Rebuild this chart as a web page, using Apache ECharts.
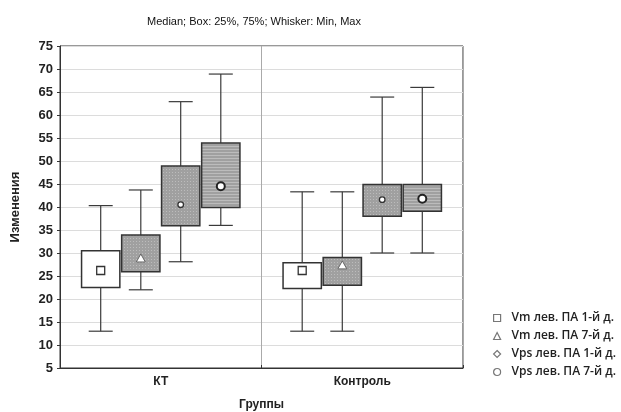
<!DOCTYPE html>
<html>
<head>
<meta charset="utf-8">
<script src="https://cdn.jsdelivr.net/npm/echarts@6/dist/echarts.min.js"></script>
<style>
  html, body { margin: 0; padding: 0; background: #fff; }
  #chart { width: 621px; height: 412px; }
</style>
</head>
<body>
<div id="chart"></div>
<script>
// группы по оси X
let groups = ['КТ', 'Контроль']
let seriesNames = ['Vm лев. ПА 1-й д.', 'Vm лев. ПА 7-й д.', 'Vps лев. ПА 1-й д.', 'Vps лев. ПА 7-й д.']
// для каждой группы: [min, 25%, медиана, 75%, max]
let vm1 = [[13, 22.5, 26.2, 30.5, 40.3], [13, 22.3, 26.2, 27.9, 43.3]]
let vm7 = [[22, 25.9, 28.7, 33.9, 43.7], [13, 23.0, 27.2, 29.0, 43.3]]
let vps1 = [[28.1, 35.9, 40.5, 48.9, 62.9], [30, 38.0, 41.6, 44.9, 63.9]]
let vps7 = [[36, 39.9, 44.5, 53.9, 68.9], [30, 39.1, 41.8, 44.9, 66.0]]
let yTicks = [5, 10, 15, 20, 25, 30, 35, 40, 45, 50, 55, 60, 65, 70, 75]

// текстуры заливки (точки и горизонтальные штрихи на сером)
function makeTile (kind) {
  let c = document.createElement('canvas')
  c.width = 3
  c.height = 3
  let ctx = c.getContext('2d')
  ctx.fillStyle = '#a0a0a0'
  ctx.fillRect(0, 0, 3, 3)
  ctx.fillStyle = '#bcbcbc'
  if (kind === 'dots') {
    ctx.fillRect(1, 1, 1, 1)
  } else {
    ctx.fillRect(0, 2, 3, 1)
  }
  return { image: c, repeat: 'repeat' }
}

let fills = ['#ffffff', makeTile('dots'), makeTile('dots'), makeTile('lines')]
let offsets = [-0.298, -0.099, 0.099, 0.298] // смещение внутри категории (доля ширины)
let boxFrac = 0.19
let capWidth = 24

function markerFor (k, x, y) {
  let st = { fill: '#fff', stroke: '#333', lineWidth: 1.3 }
  if (k === 0) {
    return { type: 'rect', shape: { x: x - 4, y: y - 4, width: 8, height: 8 }, style: st }
  } else if (k === 1) {
    return { type: 'polygon', shape: { points: [[x, y - 5], [x + 4.5, y + 3], [x - 4.5, y + 3]] }, style: { fill: '#fff', stroke: '#666', lineWidth: 1 } }
  } else if (k === 2) {
    return { type: 'circle', shape: { cx: x, cy: y, r: 2.8 }, style: st }
  }
  return { type: 'circle', shape: { cx: x, cy: y, r: 4 }, style: { fill: '#fff', stroke: '#222', lineWidth: 2 } }
}

function makeRender (k) {
  return function (params, api) {
    let g = api.value(0)
    let band = api.size([1, 0])[0]
    let cx = api.coord([g, 0])[0] + offsets[k] * band
    let w = boxFrac * band
    let yy = []
    for (let i = 1; i <= 5; i++) {
      yy.push(api.coord([g, api.value(i)])[1])
    }
    let line = { stroke: '#3a3a3a', lineWidth: 1.2 }
    return {
      type: 'group',
      children: [
        { type: 'line', shape: { x1: cx, y1: yy[0], x2: cx, y2: yy[1] }, style: line },
        { type: 'line', shape: { x1: cx, y1: yy[3], x2: cx, y2: yy[4] }, style: line },
        { type: 'line', shape: { x1: cx - capWidth / 2, y1: yy[0], x2: cx + capWidth / 2, y2: yy[0] }, style: line },
        { type: 'line', shape: { x1: cx - capWidth / 2, y1: yy[4], x2: cx + capWidth / 2, y2: yy[4] }, style: line },
        {
          type: 'rect',
          shape: { x: cx - w / 2, y: yy[3], width: w, height: yy[1] - yy[3] },
          style: { fill: fills[k], stroke: '#333', lineWidth: 1.5 }
        },
        markerFor(k, cx, yy[2])
      ]
    }
  }
}

let allData = [vm1, vm7, vps1, vps7]
let series = []
for (let k = 0; k < allData.length; k++) {
  series.push({
    name: seriesNames[k],
    type: 'custom',
    renderItem: makeRender(k),
    encode: { x: 0, y: [1, 2, 3, 4, 5] },
    itemStyle: { color: '#fff', borderColor: '#777', borderWidth: 1 },
    data: allData[k].map(function (d, i) { return [i].concat(d) })
  })
}

let legendIcons = ['rect', 'triangle', 'diamond', 'circle']

let myChart = echarts.init(document.getElementById('chart'))
let option = {
  animation: false,
  title: {
    text: 'Median; Box: 25%, 75%; Whisker: Min, Max',
    left: 142,
    top: 11,
    textStyle: { fontFamily: 'Liberation Sans', fontSize: 11, fontWeight: 'normal', color: '#111' }
  },
  legend: {
    orient: 'vertical',
    left: 488,
    top: 306,
    itemWidth: 7,
    itemHeight: 7,
    itemGap: 4,
    data: seriesNames.map(function (n, i) {
      return { name: n, icon: legendIcons[i], itemStyle: { color: '#fff', borderColor: '#777', borderWidth: 1.2 } }
    }),
    textStyle: { fontFamily: 'Open Sans', fontWeight: 600, fontSize: 12, lineHeight: 14, color: '#222', padding: [0, 0, 0, 6] }
  },
  grid: {
    left: 60,
    right: 158,
    top: 46,
    bottom: 44,
    outerBoundsMode: 'none',
    show: true,
    borderColor: '#333',
    borderWidth: 1
  },
  xAxis: {
    type: 'category',
    data: groups,
    name: 'Группы',
    nameLocation: 'middle',
    nameGap: 31,
    nameTextStyle: { fontFamily: 'Liberation Sans', fontSize: 12, fontWeight: 'bold', color: '#222' },
    axisLine: { lineStyle: { color: '#333' } },
    axisTick: { show: true, length: 3, inside: true, lineStyle: { color: '#333' } },
    axisLabel: { fontFamily: 'Liberation Sans', fontSize: 12, fontWeight: 'bold', color: '#222', margin: 8 },
    splitLine: { show: true, lineStyle: { color: '#aaa' } }
  },
  yAxis: {
    type: 'value',
    min: yTicks[0],
    max: yTicks[yTicks.length - 1],
    interval: 5,
    name: 'Изменения',
    nameLocation: 'middle',
    nameGap: 38,
    nameTextStyle: { fontFamily: 'Liberation Sans', fontSize: 13, fontWeight: 'bold', color: '#222' },
    axisLine: { show: true, lineStyle: { color: '#333' } },
    axisTick: { show: true, length: 3, lineStyle: { color: '#333' } },
    axisLabel: { fontFamily: 'Liberation Sans', fontSize: 13, fontWeight: 'bold', color: '#222', margin: 7 },
    splitLine: { show: true, lineStyle: { color: '#dcdcdc' } }
  },
  series: series
}
myChart.setOption(option, true)
</script>
</body>
</html>
